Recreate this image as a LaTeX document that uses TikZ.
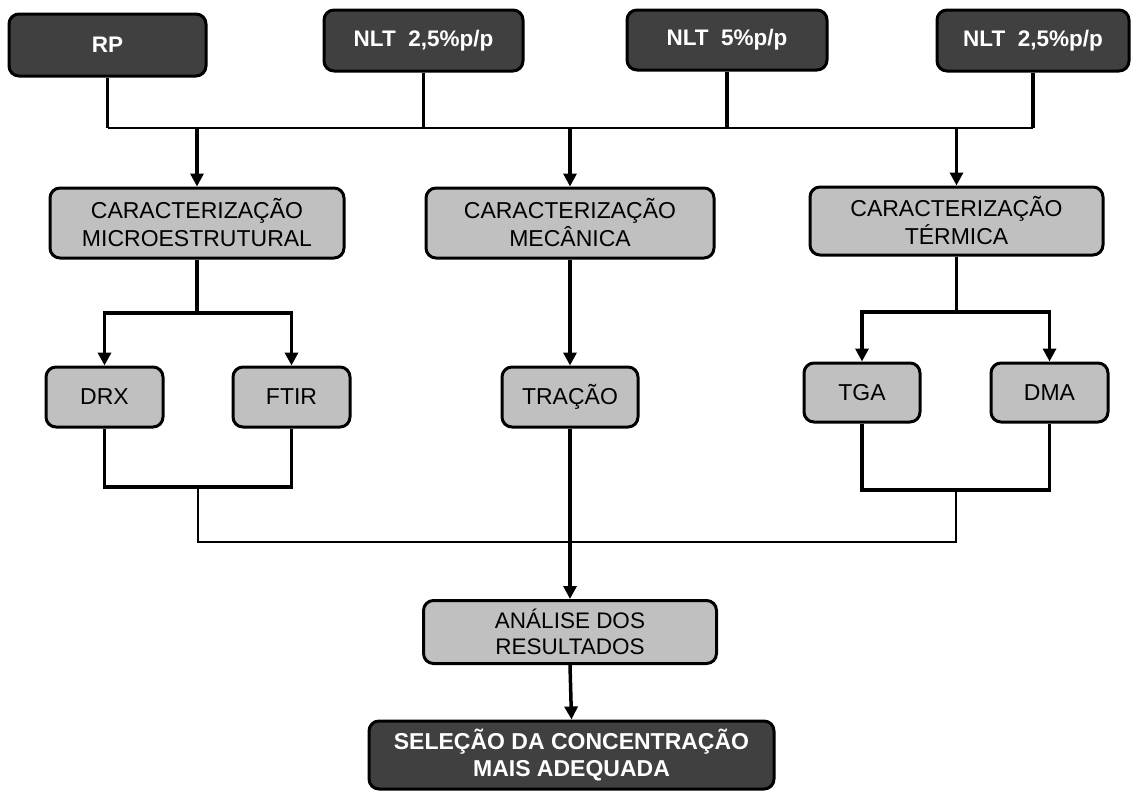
\documentclass[tikz,border=0pt]{standalone}
\usepackage{fontspec}
\setmainfont{Liberation Sans}
\usetikzlibrary{arrows.meta,calc}
\definecolor{darkfill}{HTML}{404040}
\definecolor{lightfill}{HTML}{C0C0C0}
\begin{document}
\begin{tikzpicture}[x=1pt,y=-1pt,
  dbox/.style={draw=black, line width=3pt, rounded corners=10pt, fill=darkfill, text=white,
    font=\fontsize{22.5}{27}\selectfont\bfseries, align=center, inner sep=0pt},
  gbox/.style={draw=black, line width=3pt, rounded corners=10pt, fill=lightfill, text=black,
    font=\fontsize{23}{28}\selectfont, align=center, inner sep=0pt},
  thinline/.style={line width=2.5pt},
  thickline/.style={line width=3.5pt},
  arr/.style={line width=3.5pt, -{Triangle[length=13pt,width=13pt]}}]
\useasboundingbox (0,0) rectangle (1132,790);

% top boxes
\node[dbox, minimum width=197pt, minimum height=62pt] (rp) at (107.5,45) {RP};
\node[dbox, minimum width=199pt, minimum height=61pt] (n1) at (423.5,40.5) {NLT\ \ 2,5\%p/p};
\node[dbox, minimum width=200pt, minimum height=60pt] (n2) at (727,40) {NLT\ \ 5\%p/p};
\node[dbox, minimum width=192pt, minimum height=61pt] (n3) at (1033,40.5) {NLT\ \ 2,5\%p/p};

% level 2
\node[gbox, minimum width=294pt, minimum height=70pt] (micro) at (197,223) {CARACTERIZAÇÃO\\MICROESTRUTURAL};
\node[gbox, minimum width=288pt, minimum height=70pt] (mec) at (570,223) {CARACTERIZAÇÃO\\MECÂNICA};
\node[gbox, minimum width=293pt, minimum height=68pt] (term) at (956.5,221) {CARACTERIZAÇÃO\\TÉRMICA};

% level 3
\node[gbox, minimum width=117pt, minimum height=60pt] (drx) at (104.5,397) {DRX};
\node[gbox, minimum width=117pt, minimum height=60pt] (ftir) at (291.5,397) {FTIR};
\node[gbox, minimum width=136pt, minimum height=60pt] (trac) at (570,397) {TRAÇÃO};
\node[gbox, minimum width=116pt, minimum height=59pt] (tga) at (862,392.5) {TGA};
\node[gbox, minimum width=117pt, minimum height=59pt] (dma) at (1049.5,392.5) {DMA};

% bottom
\node[gbox, minimum width=293pt, minimum height=63pt, font=\fontsize{22.5}{26}\selectfont] (anal) at (570,632) {ANÁLISE DOS\\RESULTADOS};
\node[dbox, minimum width=405pt, minimum height=68pt, font=\fontsize{23}{27.5}\selectfont\bfseries] (sel) at (571.5,755) {SELEÇÃO DA CONCENTRAÇÃO\\MAIS ADEQUADA};

% helper levels
\coordinate (bus) at (0,128);
\coordinate (mb) at (0,313);
\coordinate (tb) at (0,312);
\coordinate (lb) at (0,487);
\coordinate (rb) at (0,490);
\coordinate (bb) at (0,542);

% top bus
\foreach \n in {rp,n1,n2,n3} \draw[thickline] (\n.south) -- (\n.south |- bus);
\draw[thinline] (rp.south |- bus) -- (n3.south |- bus);
\foreach \n in {micro,mec,term} \draw[arr] (\n.north |- bus) -- (\n.north);

% branches
\draw[arr] (micro.south) -- (micro.south |- mb) -| (drx.north);
\draw[arr] (micro.south |- mb) -| (ftir.north);
\draw[arr] (mec.south) -- (trac.north);
\draw[arr] (term.south) -- (term.south |- tb) -| (tga.north);
\draw[arr] (term.south |- tb) -| (dma.north);

% merges
\draw[thickline] (drx.south) -- (drx.south |- lb) -- (ftir.south |- lb) -- (ftir.south);
\draw[thickline] (tga.south) -- (tga.south |- rb) -- (dma.south |- rb) -- (dma.south);
\coordinate (lm) at ($(drx.south |- lb)!0.5!(ftir.south |- lb)$);
\coordinate (rm) at ($(tga.south |- rb)!0.5!(dma.south |- rb)$);
\draw[thinline] (lm) -- (lm |- bb) -- (rm |- bb) -- (rm);
\draw[arr] (trac.south) -- (anal.north);
\draw[arr] (anal.south) -- (sel.north);
\end{tikzpicture}
\end{document}
